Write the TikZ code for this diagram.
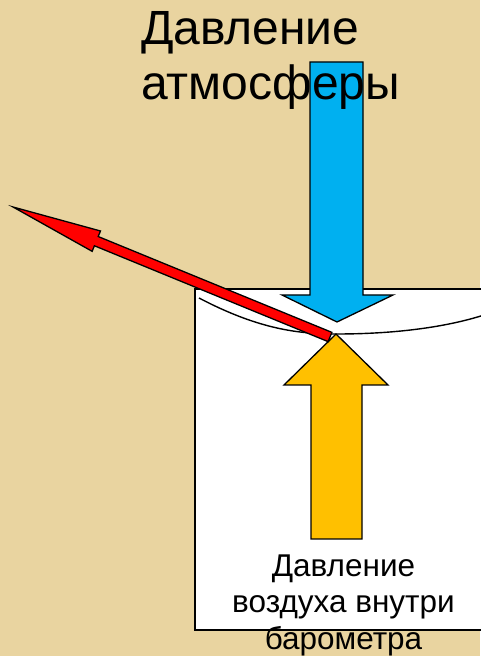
\documentclass[tikz,border=0pt]{standalone}
\usepackage{fontspec}
\setmainfont{Liberation Sans}
\usetikzlibrary{calc}
\definecolor{papyrus}{RGB}{233,212,160}
\definecolor{skyblue}{RGB}{0,176,240}
\definecolor{amber}{RGB}{255,192,0}

\begin{document}
\begin{tikzpicture}[
        x=1pt,
        y=1pt,
        block arrow/.style={draw=black,line width=1.3pt,line join=miter},
        down arrow/.style={block arrow,fill=skyblue},
        up arrow/.style={block arrow,fill=amber},
        needle/.style={block arrow,fill=red},
        membrane/.style={line width=1.4pt},
        big label/.style={font=\fontsize{48}{55}\selectfont,align=left,inner sep=0pt},
        small label/.style={font=\fontsize{31.5}{37}\selectfont,align=center,inner sep=0pt}
    ]
        \useasboundingbox (0,0) rectangle (480,656);
        \fill[papyrus] (0,0) rectangle (480,656);

        % The barometer box, running off the right edge.
        \draw[line width=2pt,fill=white] (195,26) rectangle (490,367);

        % The membrane sags under the air.
        \coordinate (mleft) at (199,358);
        \coordinate (mlow) at (337,322);
        \coordinate (mright) at (484,341);
        \draw[membrane] (mleft) .. controls (260,326) and (300,322) .. (mlow)
            .. controls (400,322) and (450,330) .. (mright);

        % Pressure of the atmosphere, from above.
        \coordinate (bluetip) at (337,334);
        \draw[down arrow] (bluetip)
            -- ($(bluetip)+(-55,27)$) -- ($(bluetip)+(-27,27)$)
            -- ($(bluetip)+(-27,260)$) -- ($(bluetip)+(26,260)$)
            -- ($(bluetip)+(26,27)$) -- ($(bluetip)+(56,27)$) -- cycle;

        % Pressure of the air inside, from below.
        \coordinate (ambertip) at (336,322);
        \draw[up arrow] (ambertip)
            -- ($(ambertip)+(52,-51)$) -- ($(ambertip)+(26,-51)$)
            -- ($(ambertip)+(26,-205)$) -- ($(ambertip)+(-25,-205)$)
            -- ($(ambertip)+(-25,-51)$) -- ($(ambertip)+(-52,-51)$) -- cycle;

        % The pointer.
        \coordinate (redtail) at (330,319);
        \begin{scope}[shift={(redtail)},rotate=157.7]
            \draw[needle] (0,-5) -- (252.6,-5) -- (252.6,-11) -- (342.6,0)
                -- (252.6,11) -- (252.6,5) -- (0,5) -- cycle;
        \end{scope}

        \node[big label,anchor=base west] (atmolbl) at (141,556)
            {Давление\\атмосферы};
        \node[small label,anchor=base] (innerlbl) at (343.5,6)
            {Давление\\воздуха внутри\\барометра};
    \end{tikzpicture}
\end{document}
